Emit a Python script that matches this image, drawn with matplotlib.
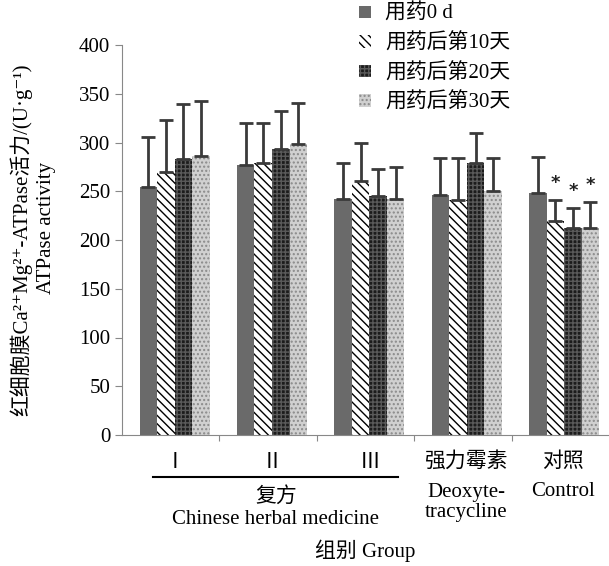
import matplotlib.pyplot as plt
import numpy as np

plt.rcParams['font.family'] = ['Liberation Serif', 'Noto Sans CJK SC', 'DejaVu Serif']
plt.rcParams['font.size'] = 15

# Dữ liệu
groups = ['Ⅰ', 'Ⅱ', 'Ⅲ', '强力霉素', '对照']
series = ['用药0 d', '用药后第10天', '用药后第20天', '用药后第30天']
means = [
    [254, 277, 242, 246, 248],   # 0 d
    [270, 279, 261, 241, 219],   # 10 d
    [283, 293, 245, 279, 212],   # 20 d
    [286, 298, 242, 250, 212],   # 30 d
]
sd = [
    [52, 43, 37, 38, 37],
    [53, 41, 39, 43, 22],
    [56, 39, 28, 31, 21],
    [57, 43, 33, 34, 27],
]
stars = [(1, 4), (2, 4), (3, 4)]  # (series, group) voi dau *

faces = ['#6a6a6a', 'white', '#1c1c1c', '#d0d0d0']
edges = ['#5e5e5e', 'black', '#5a5a5a', '#8a8a8a']
hatches = ['', '\\\\\\\\', '++++', '....']

fig = plt.figure(figsize=(6.09, 5.66), dpi=100)
ax = fig.add_axes([122 / 609, 131 / 566, 487 / 609, 390 / 566])

x = np.arange(len(groups)) + 0.04
w = 0.18
handles = []
for i in range(4):
    pos = x + (i - 1.5) * w
    b = ax.bar(pos, means[i], w, color=faces[i], edgecolor=edges[i],
               hatch=hatches[i], linewidth=0, label=series[i])
    ax.errorbar(pos, means[i], yerr=[np.zeros(5), sd[i]], fmt='none',
                ecolor='#3a3a3a', elinewidth=2, capsize=5, capthick=2)
    handles.append(b)

for s, g in stars:
    top = means[s][g] + sd[s][g]
    ax.text(x[g] + (s - 1.5) * w, top + 8, '*', ha='center', va='bottom',
            fontsize=13, fontweight='bold', color='#222222', family='DejaVu Sans')

ax.set_ylim(0, 400)
ax.set_xlim(-0.5, 4.5)
ax.set_yticks(range(0, 401, 50))
ax.set_xticks([0.5, 1.5, 2.5, 3.5])
ax.set_xticklabels([])
ax.tick_params(axis='x', length=4, color='#888888')
ax.tick_params(axis='y', length=5, color='#888888', labelsize=15)
ax.spines['top'].set_visible(False)
ax.spines['right'].set_visible(False)
ax.spines['left'].set_color('#888888')
ax.spines['bottom'].set_color('#888888')

# nhãn trục x
def fx(px):
    return px / 609

def fy(py):
    return 1 - py / 566

for name, px in zip(groups[:3], [175, 272, 370]):
    fig.text(fx(px), fy(463), name, ha='center', va='center', fontsize=15)
fig.add_artist(plt.Line2D([fx(153), fx(398)], [fy(477), fy(477)],
                          color='black', lw=1.5))
fig.text(fx(276), fy(497), '复方', ha='center', va='center', fontsize=15)
fig.text(fx(276), fy(520), 'Chinese herbal medicine', ha='center', va='center', fontsize=15)
fig.text(fx(466), fy(462), '强力霉素', ha='center', va='center', fontsize=15)
fig.text(fx(466), fy(492), 'Deoxyte-', ha='center', va='center', fontsize=15)
fig.text(fx(466), fy(513), 'tracycline', ha='center', va='center', fontsize=15)
fig.text(fx(563), fy(462), '对照', ha='center', va='center', fontsize=15)
fig.text(fx(563), fy(492), 'Control', ha='center', va='center', fontsize=15)
fig.text(fx(365), fy(551), '组别 Group', ha='center', va='center', fontsize=15)

fig.text(fx(21), fy(240), '红细胞膜Ca²⁺Mg²⁺-ATPase活力/(U·g⁻¹)',
         rotation=90, ha='center', va='center', fontsize=15)
fig.text(fx(46), fy(228), 'ATPase activity', rotation=90, ha='center',
         va='center', fontsize=15)

fig.legend(handles=handles, loc='upper left', bbox_to_anchor=(fx(355), 1.0),
           frameon=False, handlelength=0.55, handleheight=0.55, labelspacing=0.45,
           handletextpad=0.7, fontsize=15, borderaxespad=0.1, borderpad=0.1)

plt.savefig('out.png', dpi=100)
